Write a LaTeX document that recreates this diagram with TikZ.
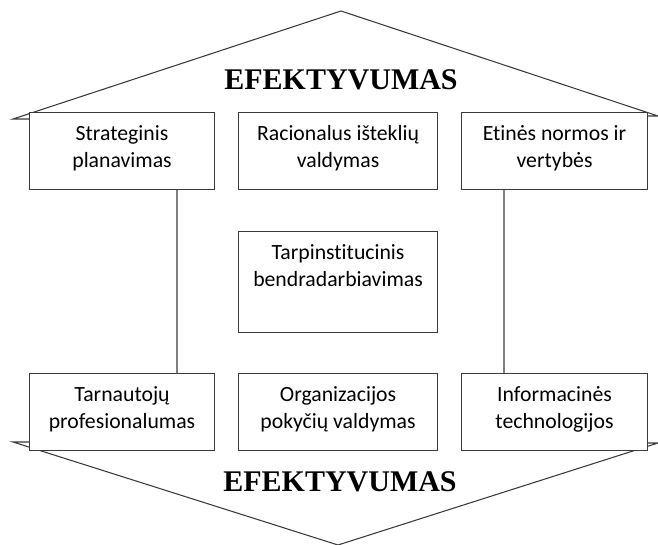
\documentclass[tikz,border=0pt]{standalone}
\usepackage{fontspec}
\setmainfont{Carlito}[Ligatures={NoCommon}]
\newfontfamily\titlefont{Liberation Serif}
\usepackage{tikz}

\definecolor{edgegray}{HTML}{3A3A3A}
\definecolor{postgray}{HTML}{808080}

\tikzset{
    roof/.style={draw=edgegray,line width=0.8pt,line join=miter},
    title/.style={font=\titlefont\bfseries\fontsize{22.5}{26}\selectfont,inner sep=0pt,anchor=base},
    pillar/.style={draw=edgegray,fill=white,line width=0.8pt,anchor=north west,align=flush center,
        inner xsep=0pt,inner ysep=0pt,text height=21pt,text depth=36.75pt,
        font=\fontsize{16.3}{20.3}\selectfont},
    post/.style={draw=postgray,line width=1.5pt}
}

\begin{document}
\begin{tikzpicture}[x=0.75pt,y=-0.75pt]
    % Page
    \useasboundingbox (0,0) rectangle (658,545);

    % Roof and floor
    \draw[roof] (29,119) -- (13,119) -- (341,11) -- (658,116) -- (647,116);
    \draw[roof] (29,442) -- (13,442) -- (338,545) -- (658,443) -- (647,443);

    % Titles
    \node[title] (topTitle) at (341,90) {EFEKTYVUMAS};
    \node[title] (bottomTitle) at (340,492) {EFEKTYVUMAS};

    % Top row
    \node[pillar,text width=138.75pt] (strat) at (29,112) {Strateginis\\planavimas};
    \node[pillar,text width=149.25pt] (resources) at (238,112) {Racionalus išteklių\\valdymas};
    \node[pillar,text width=139.5pt] (ethics) at (461,112) {Etinės normos ir\\vertybės};

    % Middle
    \node[pillar,text width=149.25pt,text depth=54.75pt] (coop) at (238,231) {Tarpinstitucinis\\bendradarbiavimas};

    % Bottom row
    \node[pillar,text width=138.75pt] (staff) at (29,373) {Tarnautojų\\profesionalumas};
    \node[pillar,text width=149.25pt] (change) at (238,373) {Organizacijos\\pokyčių valdymas};
    \node[pillar,text width=139.5pt] (infotech) at (461,373) {Informacinės\\technologijos};

    % Posts
    \coordinate (leftPost) at (177,0);
    \coordinate (rightPost) at (504,0);
    \draw[post] (strat.south -| leftPost) -- (staff.north -| leftPost);
    \draw[post] (ethics.south -| rightPost) -- (infotech.north -| rightPost);
\end{tikzpicture}
\end{document}
